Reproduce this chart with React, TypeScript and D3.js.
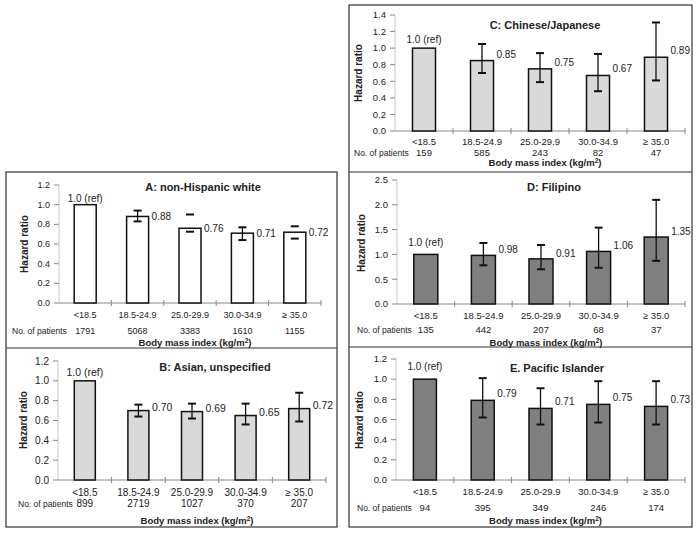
import React from "react";
import * as d3 from "d3";

const categories = ["<18.5", "18.5-24.9", "25.0-29.9", "30.0-34.9", "\u2265 35.0"];

const hrA = [1.0, 0.88, 0.76, 0.71, 0.72];
const loA = [1.0, 0.83, 0.725, 0.64, 0.655];
const hiA = [1.0, 0.94, 0.9, 0.77, 0.78];
const nA = [1791, 5068, 3383, 1610, 1155];
const stemA = [false, true, false, true, false];

const hrB = [1.0, 0.7, 0.69, 0.65, 0.72];
const loB = [1.0, 0.64, 0.62, 0.56, 0.59];
const hiB = [1.0, 0.76, 0.77, 0.77, 0.88];
const nB = [899, 2719, 1027, 370, 207];

const hrC = [1.0, 0.85, 0.75, 0.67, 0.89];
const loC = [1.0, 0.7, 0.59, 0.48, 0.61];
const hiC = [1.0, 1.05, 0.94, 0.93, 1.31];
const nC = [159, 585, 243, 82, 47];

const hrD = [1.0, 0.98, 0.91, 1.06, 1.35];
const loD = [0.99, 0.78, 0.7, 0.73, 0.87];
const hiD = [1.01, 1.23, 1.19, 1.54, 2.1];
const nD = [135, 442, 207, 68, 37];

const hrE = [1.0, 0.79, 0.71, 0.75, 0.73];
const loE = [1.0, 0.62, 0.55, 0.57, 0.55];
const hiE = [1.0, 1.01, 0.91, 0.98, 0.98];
const nE = [94, 395, 349, 246, 174];

const titles = ["A: non-Hispanic white", "B: Asian, unspecified", "C: Chinese/Japanese", "D: Filipino", "E. Pacific Islander"];
const yMaxes = [1.2, 1.2, 1.4, 2.5, 1.2];
const ySteps = [0.2, 0.2, 0.2, 0.5, 0.2];

const FONT = "'Liberation Sans', Arial, sans-serif";
const TXT = "#222";

type Layout = {
  x0: number; x1: number; y0: number; yTop: number;
  titleX: number; titleY: number; ylabX: number; ylabY: number;
  tickY: number; patY: number; xlabY: number; patX: number; pfs: number;
  fill: string; fs: number; vfs: number; refDy: number; valDy: number; bw: number;
};

const layouts: Layout[] = [
  { x0: 59, x1: 321, y0: 303, yTop: 185, titleX: 203, titleY: 191, ylabX: 28, ylabY: 244, tickY: 318, patY: 334, xlabY: 346, patX: 12, pfs: 8.5, fill: "#ffffff", fs: 9, vfs: 10, refDy: -3, valDy: 4, bw: 22 },
  { x0: 58, x1: 326, y0: 480, yTop: 361, titleX: 215, titleY: 371, ylabX: 27, ylabY: 420, tickY: 496, patY: 507, xlabY: 524, patX: 18, pfs: 8.5, fill: "#d9d9d9", fs: 10, vfs: 10.5, refDy: -5, valDy: 0, bw: 21 },
  { x0: 395, x1: 685, y0: 131, yTop: 15, titleX: 545, titleY: 29, ylabX: 362, ylabY: 73, tickY: 145, patY: 156, xlabY: 165.5, patX: 354, pfs: 8.5, fill: "#d9d9d9", fs: 9.5, vfs: 10, refDy: -5, valDy: -3, bw: 23 },
  { x0: 397, x1: 685, y0: 304, yTop: 180, titleX: 554, titleY: 191, ylabX: 365, ylabY: 243, tickY: 319, patY: 333, xlabY: 346, patX: 357, pfs: 8.5, fill: "#808080", fs: 9.5, vfs: 10, refDy: -8, valDy: -2, bw: 24 },
  { x0: 396, x1: 685, y0: 480, yTop: 359, titleX: 557, titleY: 372, ylabX: 363, ylabY: 420, tickY: 495, patY: 511, xlabY: 524, patX: 357, pfs: 8.5, fill: "#808080", fs: 9.5, vfs: 10, refDy: -9, valDy: -3, bw: 23 },
];

const panelData = [
  { hr: hrA, lo: loA, hi: hiA, n: nA },
  { hr: hrB, lo: loB, hi: hiB, n: nB },
  { hr: hrC, lo: loC, hi: hiC, n: nC },
  { hr: hrD, lo: loD, hi: hiD, n: nD },
  { hr: hrE, lo: loE, hi: hiE, n: nE },
];

function Panel({ idx }: { idx: number }) {
  const L = layouts[idx];
  const D = panelData[idx];
  const x = d3.scaleBand<string>().domain(categories).range([L.x0, L.x1]);
  const y = d3.scaleLinear().domain([0, yMaxes[idx]]).range([L.y0, L.yTop]);
  const ticks = d3.range(0, yMaxes[idx] + 1e-9, ySteps[idx]);
  const fmt = d3.format(".1f");
  const vfmt = d3.format(".2f");
  const cap = 4;
  return (
    <g fontFamily={FONT} fill={TXT}>
      <line x1={L.x0} x2={L.x0} y1={L.yTop} y2={L.y0} stroke="#c8c8c8" strokeWidth={1} />
      {ticks.map((t) => (
        <g key={t}>
          <line x1={L.x0 - 5} x2={L.x0} y1={y(t)} y2={y(t)} stroke="#888" />
          <text x={L.x0 - 9} y={y(t) + L.fs * 0.35} textAnchor="end" fontSize={L.fs}>{fmt(t)}</text>
        </g>
      ))}
      <line x1={L.x0} x2={L.x1} y1={L.y0} y2={L.y0} stroke="#888" />
      {categories.map((c, i) => (
        <line key={"t" + i} x1={(x(c) as number) + x.bandwidth()} x2={(x(c) as number) + x.bandwidth()} y1={L.y0 - 3} y2={L.y0 + 3} stroke="#888" />
      ))}
      {categories.map((c, i) => {
        const cx = (x(c) as number) + x.bandwidth() / 2;
        const v = D.hr[i];
        const showStem = idx === 0 ? stemA[i] : true;
        return (
          <g key={c}>
            <rect x={cx - L.bw / 2} y={y(v)} width={L.bw} height={L.y0 - y(v)} fill={L.fill} stroke="#111" strokeWidth={1.5} />
            {i > 0 && (
              <g stroke="#111" strokeWidth={1.3}>
                {showStem && <line x1={cx} x2={cx} y1={y(D.lo[i])} y2={y(D.hi[i])} />}
                <line x1={cx - cap} x2={cx + cap} y1={y(D.lo[i])} y2={y(D.lo[i])} strokeWidth={2} />
                <line x1={cx - cap} x2={cx + cap} y1={y(D.hi[i])} y2={y(D.hi[i])} strokeWidth={2} />
              </g>
            )}
            {i === 0 ? (
              <text x={cx} y={y(v) + L.refDy} textAnchor="middle" fontSize={L.vfs}>{fmt(v) + " (ref)"}</text>
            ) : (
              <text x={cx + L.bw / 2 + 3} y={y(v) + L.valDy} fontSize={L.vfs}>{vfmt(v)}</text>
            )}
            <text x={cx} y={L.tickY} textAnchor="middle" fontSize={L.fs}>{c}</text>
            <text x={cx} y={L.patY} textAnchor="middle" fontSize={L.fs}>{D.n[i]}</text>
          </g>
        );
      })}
      <text x={L.patX} y={L.patY} fontSize={L.pfs}>No. of patients</text>
      <text x={L.titleX} y={L.titleY} textAnchor="middle" fontSize={11} fontWeight="bold">{titles[idx]}</text>
      <text transform={`translate(${L.ylabX},${L.ylabY}) rotate(-90)`} textAnchor="middle" fontSize={10} fontWeight="bold">Hazard ratio</text>
      <text x={(L.x0 + L.x1) / 2 + 5} y={L.xlabY} textAnchor="middle" fontSize={9.5} fontWeight="bold">
        Body mass index (kg/m<tspan dy={-3} fontSize={6.5}>2</tspan><tspan dy={3}>)</tspan>
      </text>
    </g>
  );
}

export default function App() {
  return (
    <svg width={699} height={534} style={{ position: "absolute", left: 0, top: 0, background: "#fff" }}>
      <rect x={0} y={0} width={699} height={534} fill="#fff" />
      <g fill="none" stroke="#333" strokeWidth={1.2}>
        <rect x={6} y={172} width={331} height={355} />
        <line x1={6} x2={337} y1={348} y2={348} />
        <rect x={349} y={5} width={343} height={522} />
        <line x1={349} x2={692} y1={172} y2={172} />
        <line x1={349} x2={692} y1={347} y2={347} />
      </g>
      {[0, 1, 2, 3, 4].map((i) => <Panel key={i} idx={i} />)}
    </svg>
  );
}
